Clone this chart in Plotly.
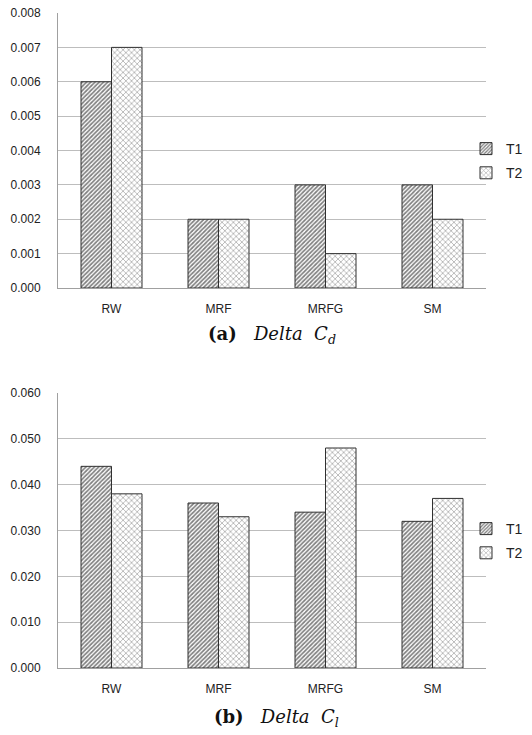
import plotly.graph_objects as go

categories = ["RW", "MRF", "MRFG", "SM"]
cd_t1 = [0.006, 0.002, 0.003, 0.003]
cd_t2 = [0.007, 0.002, 0.001, 0.002]
cl_t1 = [0.044, 0.036, 0.034, 0.032]
cl_t2 = [0.038, 0.033, 0.048, 0.037]
cd_ticks = [0.000, 0.001, 0.002, 0.003, 0.004, 0.005, 0.006, 0.007, 0.008]
cl_ticks = [0.000, 0.010, 0.020, 0.030, 0.040, 0.050, 0.060]

W, H = 532, 735

def py(px):
    return 1 - px / H

def pxx(px):
    return px / W

t1_pat = dict(shape="/", fgcolor="#000000", bgcolor="white", size=3, solidity=0.55)
t2_pat = dict(shape="x", fgcolor="#555555", bgcolor="white", size=4, solidity=0.35)
line = dict(color="#303030", width=1)

fig = go.Figure()
fig.add_trace(go.Bar(x=categories, y=cd_t1, name="T1", xaxis="x", yaxis="y", legendgroup="a1",
                     marker=dict(color="white", pattern=t1_pat, line=line), legend="legend"))
fig.add_trace(go.Bar(x=categories, y=cd_t2, name="T2", xaxis="x", yaxis="y", legendgroup="a2",
                     marker=dict(color="white", pattern=t2_pat, line=line), legend="legend"))
fig.add_trace(go.Bar(x=categories, y=cl_t1, name="T1", xaxis="x2", yaxis="y2", legendgroup="b1",
                     marker=dict(color="white", pattern=t1_pat, line=line), legend="legend2"))
fig.add_trace(go.Bar(x=categories, y=cl_t2, name="T2", xaxis="x2", yaxis="y2", legendgroup="b2",
                     marker=dict(color="white", pattern=t2_pat, line=line), legend="legend2"))

tickfont = dict(family="Liberation Sans", size=12, color="#222222")
catfont = dict(family="Liberation Sans", size=12, color="#222222")

xcommon = dict(domain=[pxx(58), pxx(486)], showgrid=False, showline=True, linecolor="#a0a0a0",
               linewidth=1, ticks="", tickfont=catfont, ticklabelstandoff=10, fixedrange=True,
               automargin=False)
ycommon = dict(showgrid=True, gridcolor="#bdbdbd", gridwidth=1, showline=True, linecolor="#a0a0a0",
               linewidth=1, zeroline=False, ticks="", tickfont=tickfont, ticklabelstandoff=14,
               tickformat=".3f", fixedrange=True, automargin=False)

legfont = dict(family="Liberation Sans", size=14, color="#222222")

fig.update_layout(
    width=W, height=H, margin=dict(l=0, r=0, t=0, b=0, pad=0, autoexpand=False),
    paper_bgcolor="white", plot_bgcolor="white",
    barmode="group", bargap=0.43, bargroupgap=0,
    showlegend=True,
    xaxis=dict(xcommon, anchor="y"),
    yaxis=dict(ycommon, domain=[py(288), py(13)], range=[0, 0.008], tickvals=cd_ticks, anchor="x"),
    xaxis2=dict(xcommon, anchor="y2"),
    yaxis2=dict(ycommon, domain=[py(668), py(393)], range=[0, 0.060], tickvals=cl_ticks, anchor="x2"),
    legend=dict(x=pxx(466), y=py(133), xanchor="left", yanchor="top", font=legfont,
                itemwidth=30, tracegroupgap=3, bgcolor="rgba(0,0,0,0)"),
    legend2=dict(x=pxx(466), y=py(513), xanchor="left", yanchor="top", font=legfont,
                 itemwidth=30, tracegroupgap=3, bgcolor="rgba(0,0,0,0)"),
    annotations=[
        dict(text="<b>(a)</b>&nbsp;&nbsp;&nbsp;<i>Delta&nbsp;&nbsp;C</i><sub><i>d</i></sub>",
             x=pxx(272), y=py(335),
             xref="paper", yref="paper", showarrow=False, xanchor="center", yanchor="middle",
             font=dict(family="DejaVu Serif", size=18, color="#111111")),
        dict(text="<b>(b)</b>&nbsp;&nbsp;&nbsp;<i>Delta&nbsp;&nbsp;C</i><sub><i>l</i></sub>",
             x=pxx(276), y=py(718),
             xref="paper", yref="paper", showarrow=False, xanchor="center", yanchor="middle",
             font=dict(family="DejaVu Serif", size=18, color="#111111")),
    ],
)

fig.write_html("out.html", config={"displayModeBar": False},
               post_script="document.body.style.margin='0';document.body.style.overflow='hidden';")
